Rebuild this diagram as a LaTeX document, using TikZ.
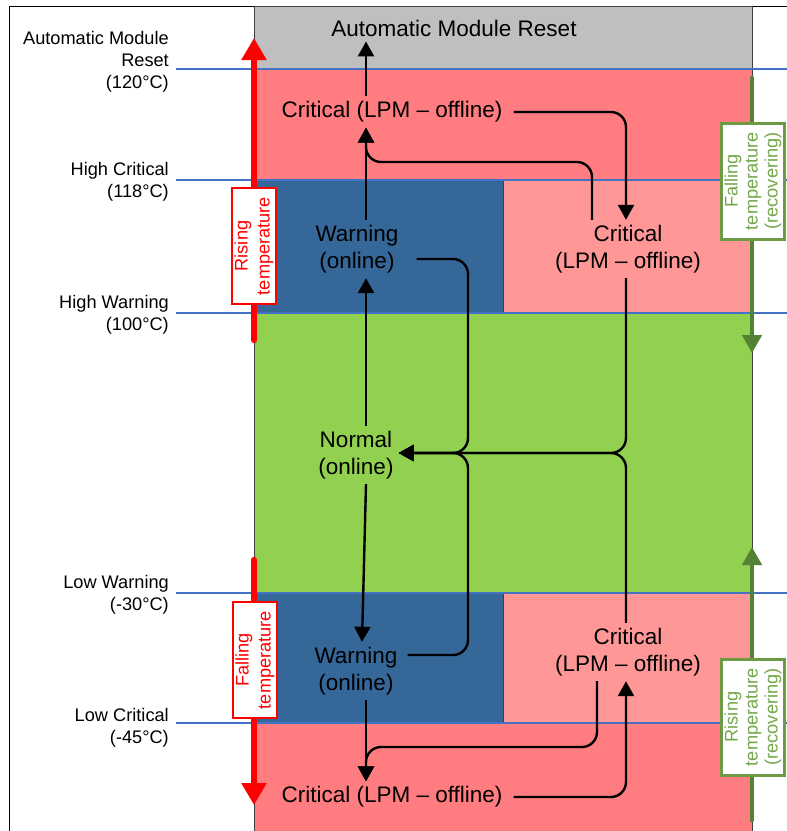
\documentclass[tikz,border=0pt]{standalone}
\usepackage{fontspec}
\setmainfont{Liberation Sans}
\usetikzlibrary{arrows.meta, positioning}

\definecolor{resetgray}{HTML}{BFBFBF}
\definecolor{critred}{HTML}{FF7C80}
\definecolor{critpink}{HTML}{FF9797}
\definecolor{warnblue}{HTML}{356799}
\definecolor{normgreen}{HTML}{92D050}
\definecolor{limitblue}{HTML}{4472C4}
\definecolor{recovgreen}{HTML}{548235}
\definecolor{recovborder}{HTML}{6F9A44}
\definecolor{recovtext}{HTML}{73A84A}

\begin{document}
\begin{tikzpicture}[x=1pt, y=-1pt,
  bandrect/.style={draw=black!75, line width=0.8pt},
  limitline/.style={limitblue, line width=1.6pt},
  limitlabel/.style={anchor=east, align=right, inner sep=0pt, font=\fontsize{18.2}{22}\selectfont},
  statelabel/.style={align=center, inner sep=5pt, font=\fontsize{22.5}{27}\selectfont},
  statearrow/.style={-{Triangle[width=16pt,length=15pt]}, line width=2.4pt, rounded corners=15pt},
  risearrow/.style={red, line width=6.5pt, line cap=round, -{Triangle[width=24pt,length=22pt]}},
  recovarrow/.style={recovgreen, line width=4.5pt, line cap=round, -{Triangle[width=19pt,length=18pt]}},
  risebox/.style={draw=red, line width=2.5pt, fill=white, text=red, rotate=90, align=center,
    minimum width=116pt, minimum height=44pt, inner sep=2pt, font=\fontsize{18.2}{22}\selectfont},
  recovbox/.style={draw=recovborder, line width=3pt, fill=white, text=recovtext, rotate=90, align=center,
    minimum width=116pt, minimum height=63pt, inner sep=2pt, font=\fontsize{18.2}{20}\selectfont}]
  \useasboundingbox (0,0) rectangle (787,831);
  % Frame
  \draw[line width=0.8pt] (9,831) |- (787,6);
  % Temperature bands
  \draw[bandrect, fill=resetgray] (254,6) rectangle (752,69);
  \draw[bandrect, fill=critred] (254,69) rectangle (752,180);
  \draw[bandrect, fill=warnblue] (254,180) rectangle (503,313);
  \draw[bandrect, fill=critpink] (503,180) rectangle (752,313);
  \draw[bandrect, fill=normgreen] (254,313) rectangle (752,593);
  \draw[bandrect, fill=warnblue] (254,593) rectangle (503,723);
  \draw[bandrect, fill=critpink] (503,593) rectangle (752,723);
  \draw[bandrect, fill=critred] (254,723) rectangle (752,840);
  % Limits
  \foreach \y in {69,180,313,593,723}
    \draw[limitline] (176,\y) -- (787,\y);
  \node[limitlabel] (resetLim) at (169,62) {Automatic Module\\Reset\\(120°C)};
  \node[limitlabel] (critHiLim) at (169,182) {High Critical\\(118°C)};
  \node[limitlabel] (warnHiLim) at (169,315) {High Warning\\(100°C)};
  \node[limitlabel] (warnLoLim) at (169,595) {Low Warning\\(-30°C)};
  \node[limitlabel] (critLoLim) at (169,728) {Low Critical\\(-45°C)};
  % States
  \node[statelabel] (reset) at (454,28) {Automatic Module Reset};
  \node[statelabel] (critTop) at (392,112) {Critical (LPM -- offline)};
  \node[statelabel] (warnHi) at (357,249) {Warning\\(online)};
  \node[statelabel] (critHi) at (628,249) {Critical\\(LPM -- offline)};
  \node[statelabel] (normal) at (356,455) {Normal\\(online)};
  \node[statelabel] (warnLo) at (356,671) {Warning\\(online)};
  \node[statelabel] (critLo) at (628,652) {Critical\\(LPM -- offline)};
  \node[statelabel] (critBot) at (392,797) {Critical (LPM -- offline)};
  \coordinate (colL) at (366,0);
  \coordinate (colM) at (468,0);
  \coordinate (colR) at (626,0);
  \coordinate (colHi) at (592,0);
  \coordinate (colLo) at (597,0);
  \coordinate (busHi) at (0,162);
  \coordinate (busLo) at (0,747);
  \coordinate (bus) at (0,453);
  % Transitions
  \draw[statearrow] (critTop.north -| colL) -- (reset.south -| colL);
  \draw[statearrow] (warnHi.north -| colL) -- (critTop.south -| colL);
  \draw[statearrow] (critHi.north -| colHi) -- (colHi |- busHi) -- (colL |- busHi) -- (critTop.south -| colL);
  \draw[statearrow] ([xshift=6pt]critTop.east) -| (critHi.north -| colR);
  \draw[statearrow] (normal.north -| colL) -- (warnHi.south -| colL);
  \draw[statearrow] ([shift={(13,10)}]warnHi.east) -| (colM |- bus) -- (normal.east |- bus);
  \draw[statearrow] (critHi.south -| colR) |- (normal.east |- bus);
  \draw[statearrow] ([shift={(5,-16)}]warnLo.east) -| (colM |- bus) -- (normal.east |- bus);
  \draw[statearrow] (critLo.north -| colR) |- (normal.east |- bus);
  \draw[statearrow] (normal.south -| colL) -- ([xshift=-4pt]warnLo.north -| colL);
  \draw[statearrow] (warnLo.south -| colL) -- (critBot.north -| colL);
  \draw[statearrow] (critLo.south -| colLo) -- (colLo |- busLo) -- (colL |- busLo) -- (critBot.north -| colL);
  \draw[statearrow] ([xshift=6pt]critBot.east) -| (critLo.south -| colR);
  % Rising / falling temperature
  \coordinate (riseTail) at (254,340);
  \coordinate (riseTip) at (254,38);
  \coordinate (fallTail) at (254,560);
  \coordinate (fallTip) at (254,805);
  \draw[risearrow] (riseTail) -- (riseTip);
  \draw[risearrow] (fallTail) -- (fallTip);
  \node[risebox] (riseBox) at (254,246) {Rising\\temperature};
  \node[risebox] (fallBox) at (255,660) {Falling\\temperature};
  % Recovering
  \coordinate (recFallTail) at (752,78);
  \coordinate (recFallTip) at (752,353);
  \coordinate (recRiseTail) at (752,820);
  \coordinate (recRiseTip) at (752,547);
  \draw[recovarrow] (recFallTail) -- (recFallTip);
  \draw[recovarrow] (recRiseTail) -- (recRiseTip);
  \node[recovbox] (recFallBox) at (753,181) {Falling\\temperature\\(recovering)};
  \node[recovbox] (recRiseBox) at (753,717) {Rising\\temperature\\(recovering)};
\end{tikzpicture}
\end{document}
